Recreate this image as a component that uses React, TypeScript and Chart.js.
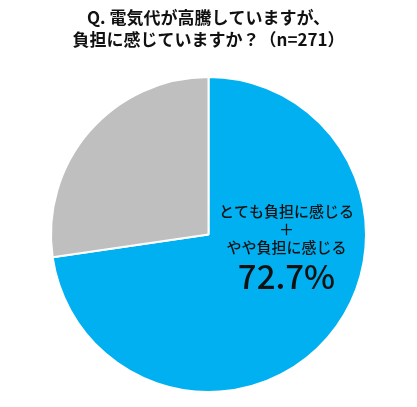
import React, { useEffect, useRef } from "react";
import { Chart, registerables } from "chart.js";

Chart.register(...registerables);

const titleLines = ["Q. 電気代が高騰していますが、", "負担に感じていますか？（n=271）"];
const categories = ["とても負担に感じる＋やや負担に感じる", "その他"];
const values = [72.7, 27.3];
const colors = ["#00B0F0", "#BFBFBF"];
const labelLines = ["とても負担に感じる", "＋", "やや負担に感じる"];
const labelValue = "72.7%";

const FONT = "'Noto Sans CJK JP', 'Noto Sans', sans-serif";

export default function App() {
  const ref = useRef<HTMLCanvasElement | null>(null);
  useEffect(() => {
    if (!ref.current) return;
    const overlay = {
      id: "overlay",
      afterDraw(chart: any) {
        const ctx = chart.ctx as CanvasRenderingContext2D;
        const arc = chart.getDatasetMeta(0).data[0] as any;
        const cx = arc.x;
        const cy = arc.y;
        const r = arc.outerRadius;
        ctx.save();
        ctx.fillStyle = "#111";
        ctx.textAlign = "center";
        ctx.textBaseline = "middle";
        ctx.font = `bold 17px ${FONT}`;
        ctx.fillText(titleLines[0], chart.width / 2, 18);
        ctx.fillText(titleLines[1], chart.width / 2, 40);
        const lx = cx + r * 0.495;
        ctx.font = `500 15px ${FONT}`;
        ctx.fillText(labelLines[0], lx, cy - 23);
        ctx.fillText(labelLines[1], lx, cy - 5);
        ctx.fillText(labelLines[2], lx, cy + 13);
        ctx.font = `500 33px ${FONT}`;
        ctx.fillText(labelValue, lx, cy + 42);
        ctx.restore();
      },
    };
    const chart = new Chart(ref.current, {
      type: "pie",
      data: {
        labels: categories,
        datasets: [
          {
            data: values,
            backgroundColor: colors,
            borderColor: "#FFFFFF",
            borderWidth: 2,
          },
        ],
      },
      options: {
        responsive: false,
        animation: false,
        layout: { padding: { top: 76, bottom: 14, left: 0, right: 0 } },
        plugins: {
          legend: { display: false },
          tooltip: { enabled: false },
          title: { display: false },
        },
      },
      plugins: [overlay],
    });
    return () => chart.destroy();
  }, []);
  return (
    <div style={{ position: "absolute", left: 0, top: 0, width: 417, height: 407, background: "#fff" }}>
      <canvas ref={ref} width={417} height={407} />
    </div>
  );
}
